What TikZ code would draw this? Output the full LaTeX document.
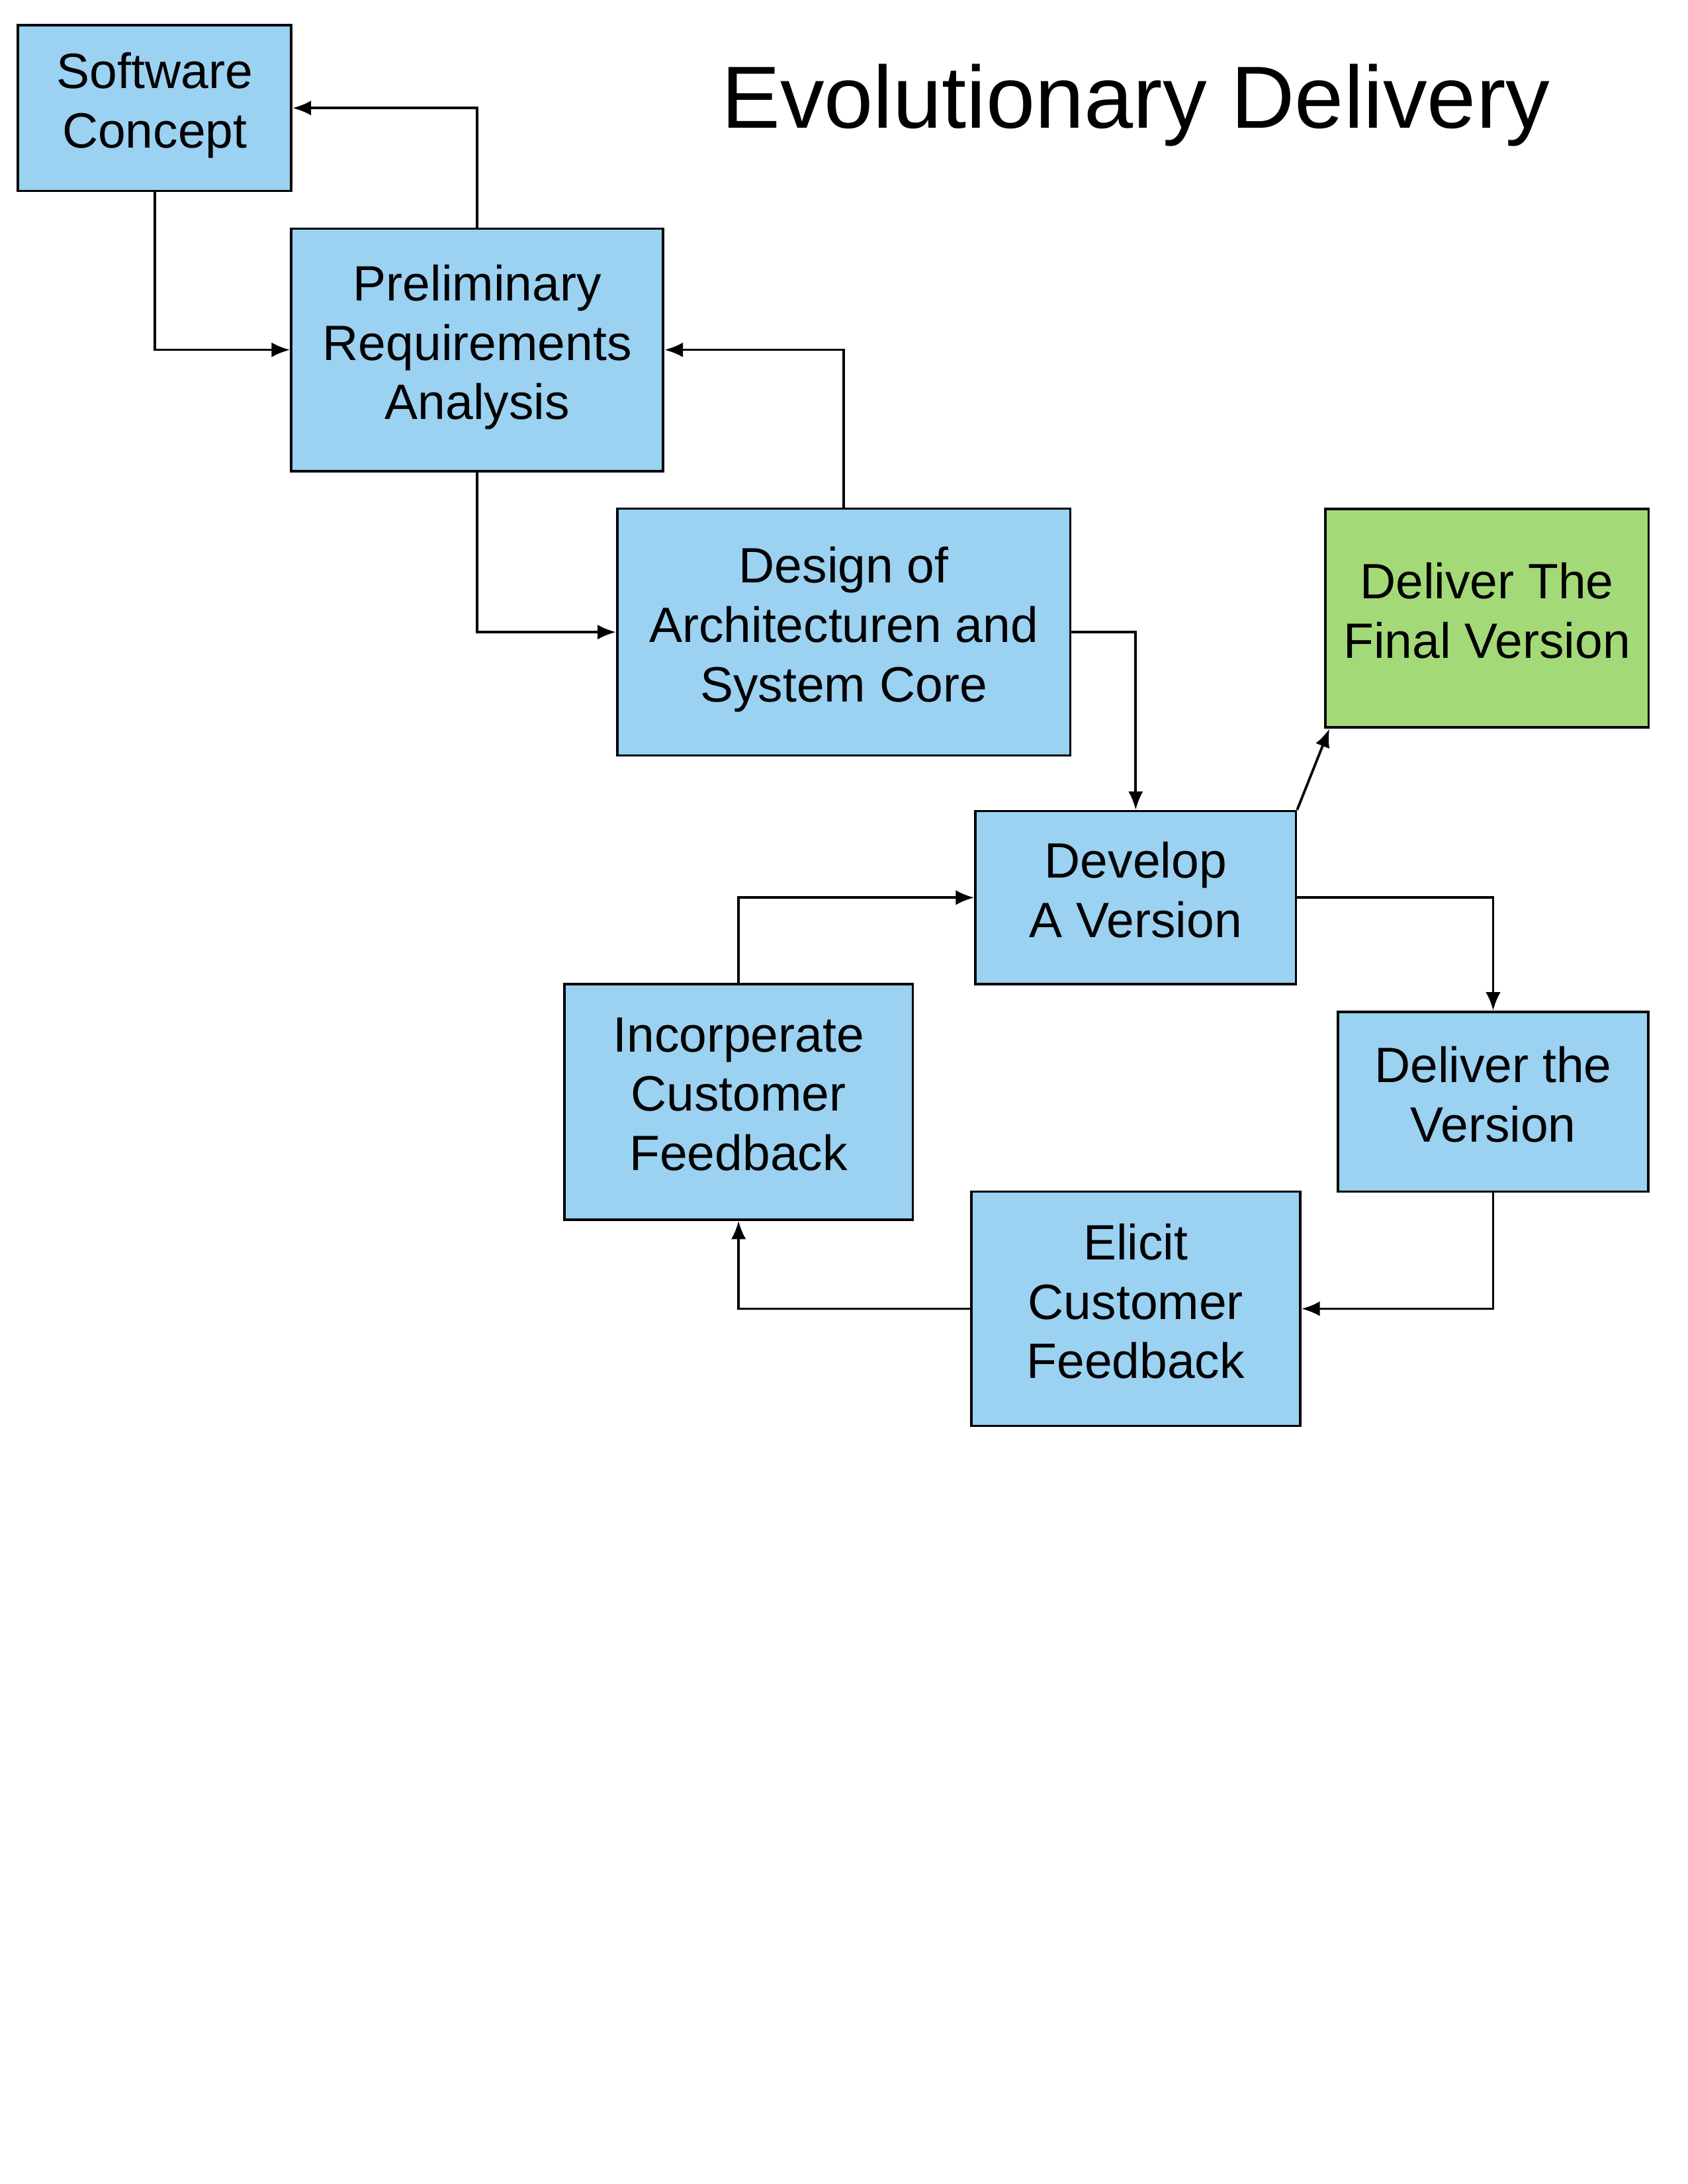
\documentclass[tikz,border=0pt]{standalone}
\usepackage{fontspec}
\setmainfont{Liberation Sans}
\usepackage{xcolor}
\usepackage{tikz}
\usetikzlibrary{arrows.meta}

\definecolor{boxblue}{HTML}{9BD1F1}
\definecolor{boxgreen}{HTML}{A4D977}

\begin{document}
\begin{tikzpicture}[x=0.5054pt,y=-0.5054pt,
  proc/.style={shape=rectangle,draw=black,line width=0.9pt,fill=boxblue,inner sep=2pt,text depth=5.6pt,align=center,font=\fontsize{18}{21.5}\selectfont},
  link/.style={line width=0.9pt,-{Latex[length=6.7pt,width=5.4pt]}}]

\useasboundingbox (0,0) rectangle (1211,1567);

% title
\node[anchor=base,font=\fontsize{32}{38}\selectfont] (title) at (815,92) {Evolutionary Delivery};

% nodes

\node[proc, minimum width=99.1pt, minimum height=60.1pt] (concept) at (111,77.5) {Software\\Concept};
\node[proc, minimum width=134.9pt, minimum height=87.9pt] (prelim) at (342.5,251) {Preliminary\\Requirements\\Analysis};
\node[proc, minimum width=164.3pt, minimum height=89.5pt] (design) at (605.5,453.5) {Design of\\Architecturen and\\System Core};
\node[proc, fill=boxgreen, minimum width=117.3pt, minimum height=79.3pt] (final) at (1067,443.5) {Deliver The\\Final Version};
\node[proc, minimum width=116.2pt, minimum height=62.7pt] (develop) at (815,644) {Develop\\A Version};
\node[proc, minimum width=126.4pt, minimum height=85.4pt] (incorp) at (530,790.5) {Incorperate\\Customer\\Feedback};
\node[proc, minimum width=112.7pt, minimum height=65.2pt] (delver) at (1071.5,790.5) {Deliver the\\Version};
\node[proc, minimum width=119.3pt, minimum height=84.9pt] (elicit) at (815,939) {Elicit\\Customer\\Feedback};

%% lines
\draw[link] (prelim.north) |- (concept.east);
\draw[link] (concept.south) |- (prelim.west);
\draw[link] (design.north) |- (prelim.east);
\draw[link] (prelim.south) |- (design.west);
\draw[link] (design.east) -| (develop.north);
\draw[link] (develop.north east) -- ([xshift=2pt]final.south west);

%% loop
\draw[link] (develop.east) -| (delver.north);
\draw[link] (delver.south) |- (elicit.east);
\draw[link] (elicit.west) -| (incorp.south);
\draw[link] (incorp.north) |- (develop.west);

\end{tikzpicture}
\end{document}
